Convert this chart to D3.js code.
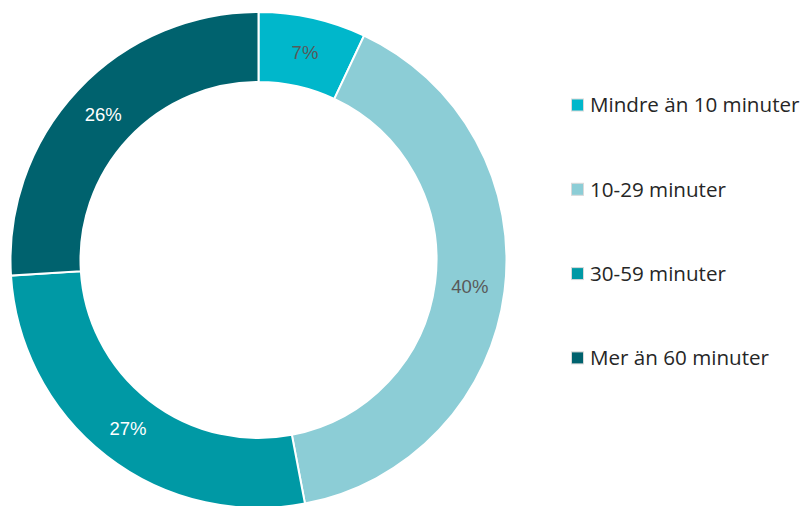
<!doctype html>
<html lang="sv">
<head>
<meta charset="UTF-8">
<title>Donut</title>
<style>
    body { margin: 0; background: #fff; }
    svg { display: block; }
</style>
</head>
<body>
<div class="canvas"></div>
<script src="https://d3js.org/d3.v7.min.js"></script>
<script>
    const categories = ['Mindre än 10 minuter', '10-29 minuter', '30-59 minuter', 'Mer än 60 minuter'];
    const values = [7, 40, 27, 26];
    const colors = ['#00b7cb', '#8ccdd6', '#0099a5', '#00626e'];
    const labelColors = ['#595959', '#595959', '#ffffff', '#ffffff'];

    const svgWidth = 800;
    const svgHeight = 506;
    const cx = 258.5, cy = 260;
    const outerR = 248, innerR = 178;

    const svg = d3.select('.canvas').append('svg')
        .attr('width', svgWidth)
        .attr('height', svgHeight);

    const data = categories.map((c, i) => ({ name: c, value: values[i], i }));

    const pie = d3.pie().value(d => d.value).sort(null);
    const arc = d3.arc().innerRadius(innerR).outerRadius(outerR);
    const arcs = pie(data);

    const graph = svg.append('g').attr('transform', `translate(${cx}, ${cy})`);

    graph.selectAll('path')
        .data(arcs)
        .enter()
        .append('path')
        .attr('d', arc)
        .attr('fill', d => colors[d.data.i])
        .attr('stroke', '#ffffff')
        .attr('stroke-width', 2);

    graph.selectAll('text')
        .data(arcs)
        .enter()
        .append('text')
        .attr('transform', d => `translate(${arc.centroid(d)})`)
        .attr('text-anchor', 'middle')
        .attr('dy', '0.35em')
        .attr('font-family', '"Liberation Sans", Arial, sans-serif')
        .attr('font-size', 18.5)
        .attr('fill', d => labelColors[d.data.i])
        .text(d => d.data.value + '%');

    // legend
    const legend = svg.append('g').attr('transform', 'translate(571, 105)');
    const items = legend.selectAll('g')
        .data(data)
        .enter()
        .append('g')
        .attr('transform', (d, i) => `translate(0, ${i * 84.3})`);

    items.append('rect')
        .attr('x', 0.5)
        .attr('y', -6)
        .attr('width', 12)
        .attr('height', 12)
        .attr('fill', d => colors[d.i])
        .attr('stroke', '#d9d9d9')
        .attr('stroke-width', 1);

    items.append('text')
        .attr('x', 19)
        .attr('dy', '0.35em')
        .attr('font-family', '"Open Sans", sans-serif')
        .attr('font-size', 20.6)
        .attr('fill', '#262626')
        .text(d => d.name);
</script>
</body>
</html>
